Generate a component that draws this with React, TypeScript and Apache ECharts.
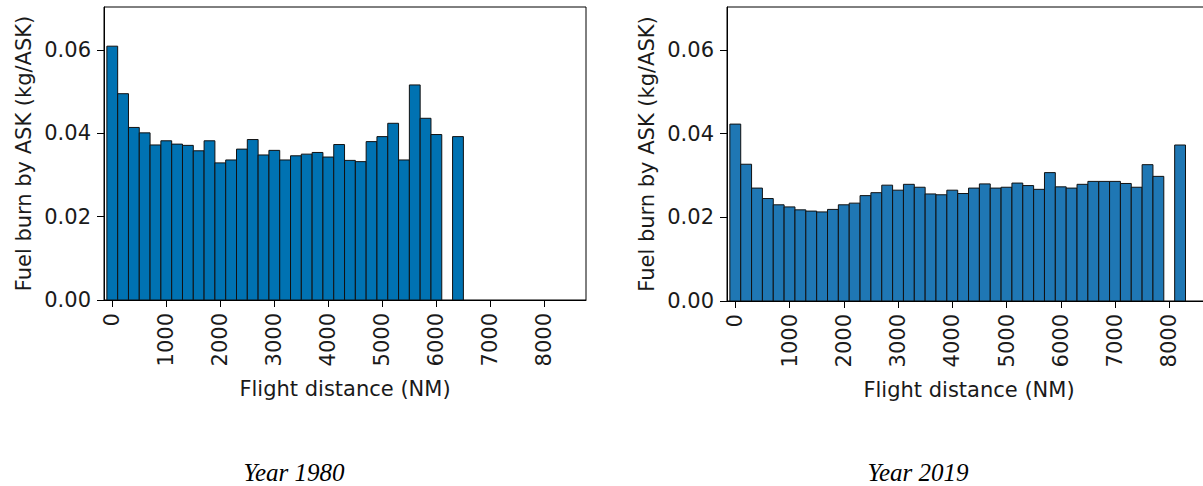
import React, { useEffect, useRef } from "react";
import * as echarts from "echarts";

// Bin centres (NM) and fuel burn values (kg/ASK)
const BIN_WIDTH = 200;
const bins1980 = [0, 200, 400, 600, 800, 1000, 1200, 1400, 1600, 1800, 2000, 2200, 2400, 2600, 2800, 3000, 3200, 3400, 3600, 3800, 4000, 4200, 4400, 4600, 4800, 5000, 5200, 5400, 5600, 5800, 6000, 6400];
const values1980 = [0.0609, 0.0495, 0.0414, 0.0401, 0.0372, 0.0382, 0.0374, 0.0371, 0.0358, 0.0382, 0.0329, 0.0336, 0.0362, 0.0385, 0.0348, 0.0359, 0.0336, 0.0346, 0.0350, 0.0354, 0.0343, 0.0373, 0.0335, 0.0332, 0.0380, 0.0392, 0.0424, 0.0336, 0.0516, 0.0436, 0.0397, 0.0392];

const bins2019 = [0, 200, 400, 600, 800, 1000, 1200, 1400, 1600, 1800, 2000, 2200, 2400, 2600, 2800, 3000, 3200, 3400, 3600, 3800, 4000, 4200, 4400, 4600, 4800, 5000, 5200, 5400, 5600, 5800, 6000, 6200, 6400, 6600, 6800, 7000, 7200, 7400, 7600, 7800, 8200];
const values2019 = [0.0423, 0.0327, 0.0270, 0.0245, 0.0230, 0.0225, 0.0218, 0.0215, 0.0213, 0.0219, 0.0230, 0.0234, 0.0252, 0.0259, 0.0277, 0.0265, 0.0279, 0.0272, 0.0256, 0.0254, 0.0265, 0.0257, 0.0270, 0.0280, 0.0270, 0.0272, 0.0282, 0.0276, 0.0267, 0.0307, 0.0273, 0.0270, 0.0279, 0.0286, 0.0286, 0.0286, 0.0281, 0.0272, 0.0326, 0.0298, 0.0373];

const xTicks = [0, 1000, 2000, 3000, 4000, 5000, 6000, 7000, 8000];
const yTicks = [0, 0.02, 0.04, 0.06];
const captions = ["Year 1980", "Year 2019"];
const xName = "Flight distance (NM)";
const yName = "Fuel burn by ASK (kg/ASK)";

const FONT = "DejaVu Sans";

export default function App() {
  const ref = useRef<HTMLDivElement>(null);
  useEffect(() => {
    if (!ref.current) return;
    const chart = echarts.init(ref.current, null, { renderer: "svg" });

    const grids = [
      { left: 104, top: 7, width: 482, height: 293 },
      { left: 727, top: 7, width: 484, height: 294 },
    ];
    const colors = ["#0072b2", "#1f77b4"];

    const xAxis = grids.map((_, i) => ({
      type: "value",
      gridIndex: i,
      min: -153,
      max: 8770,
      splitLine: { show: false },
      axisLine: { show: true, onZero: false, lineStyle: { color: "#000", width: 1 } },
      axisTick: { show: true, length: 7, customValues: xTicks, lineStyle: { color: "#000", width: 1 } },
      axisLabel: {
        customValues: xTicks,
        rotate: 90,
        margin: 13,
        fontFamily: FONT,
        fontSize: 21,
        color: "#1a1a1a",
        formatter: (v: number) => String(v),
      },
      name: xName,
      nameLocation: "middle",
      nameGap: 78,
      nameTextStyle: { fontFamily: FONT, fontSize: 21, color: "#1a1a1a" },
    }));

    const yAxis = grids.map((_, i) => ({
      type: "value",
      gridIndex: i,
      min: 0,
      max: 0.0703,
      splitLine: { show: false },
      axisLine: { show: true, onZero: false, lineStyle: { color: "#000", width: 1 } },
      axisTick: { show: true, length: 7, customValues: yTicks, lineStyle: { color: "#000", width: 1 } },
      axisLabel: {
        customValues: yTicks,
        margin: 13,
        fontFamily: FONT,
        fontSize: 21,
        color: "#1a1a1a",
        formatter: (v: number) => v.toFixed(2),
      },
      name: yName,
      nameLocation: "middle",
      nameGap: 70,
      nameRotate: 90,
      nameTextStyle: { fontFamily: FONT, fontSize: 21, color: "#1a1a1a" },
    }));

    const makeSeries = (bins: number[], vals: number[], i: number) => ({
      type: "custom",
      xAxisIndex: i,
      yAxisIndex: i,
      clip: true,
      data: bins.map((b, k) => [b, vals[k]]),
      renderItem: (params: any, api: any) => {
        const c = api.value(0);
        const v = api.value(1);
        const p0 = api.coord([c - BIN_WIDTH / 2, v]);
        const p1 = api.coord([c + BIN_WIDTH / 2, 0]);
        return {
          type: "rect",
          shape: { x: p0[0], y: p0[1], width: p1[0] - p0[0], height: p1[1] - p0[1] },
          style: { fill: colors[i], stroke: "#111", lineWidth: 1 },
        };
      },
    });

    const captionStyle = {
      fontFamily: "Liberation Serif",
      fontStyle: "italic",
      fontSize: 25,
      lineHeight: 26,
      fill: "#000",
      align: "center",
      verticalAlign: "middle",
    };

    chart.setOption({
      animation: false,
      backgroundColor: "#fff",
      grid: grids.map((g) => ({
        ...g,
        show: true,
        borderColor: "#000",
        borderWidth: 1,
        backgroundColor: "transparent",
      })),
      xAxis,
      yAxis,
      series: [makeSeries(bins1980, values1980, 0), makeSeries(bins2019, values2019, 1)],
      graphic: [
        { type: "text", x: 294, y: 472, style: { ...captionStyle, text: captions[0] } },
        { type: "text", x: 918, y: 472, style: { ...captionStyle, text: captions[1] } },
      ],
    });
    return () => chart.dispose();
  }, []);

  return (
    <div style={{ position: "fixed", left: 0, top: 0, width: 1203, height: 486, overflow: "hidden", background: "#fff" }}>
      <div ref={ref} style={{ width: 1215, height: 486 }} />
    </div>
  );
}
